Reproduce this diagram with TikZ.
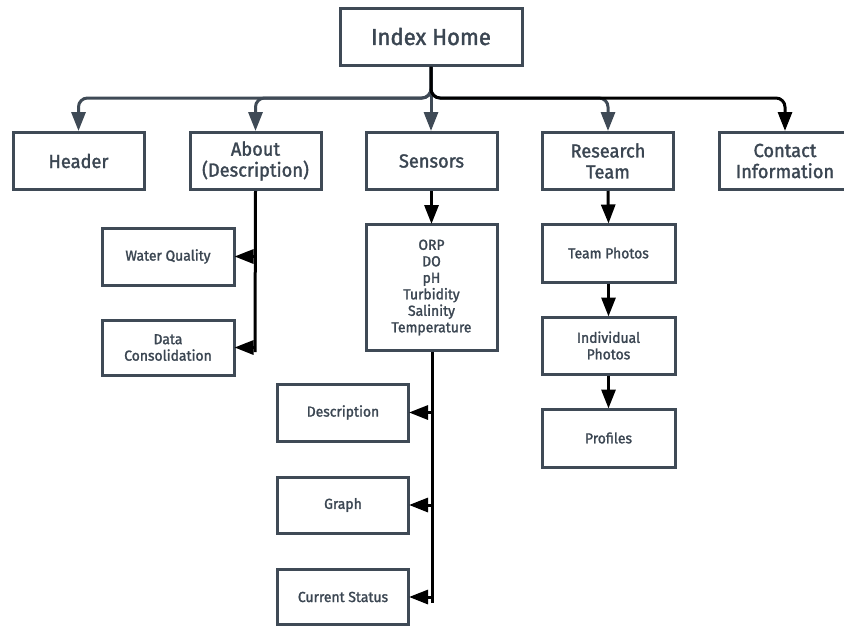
\documentclass[tikz,border=0pt]{standalone}
\usepackage{fontspec}
\setmainfont{Fira Sans}[FakeBold=1.6, FakeStretch=0.96]
\usetikzlibrary{arrows.meta}
\definecolor{slate}{HTML}{3F4A56}
\definecolor{txt}{HTML}{3B4652}
\tikzset{
  box/.style={draw=slate, line width=3pt, fill=white, text=txt, align=center,
    minimum width=131pt, minimum height=57pt, inner sep=2pt},
  bigfont/.style={font=\fontsize{19}{21}\selectfont},
  smallfont/.style={font=\fontsize{14.5}{16.5}\selectfont},
  tip/.style={-{Triangle[length=19pt,width=14pt]}},
  topconn/.style={draw=slate, line width=3pt, rounded corners=9pt, tip},
  subconn/.style={draw=black, line width=3pt},
  subarr/.style={draw=black, line width=3pt, tip, shorten >=-1pt},
}
\begin{document}
\begin{tikzpicture}[x=1pt,y=-1pt]
\useasboundingbox (0,0) rectangle (844,625);
\fill[white] (0,0) rectangle (844,625);
% nodes
\node[box, minimum width=182pt, minimum height=57pt, font=\fontsize{23}{25}\selectfont] (home) at (431,36.5) {Index Home};
\node[box, bigfont] (header) at (78.5,161) {Header};
\node[box, bigfont] (about) at (255.5,161) {About\\(Description)};
\node[box, bigfont] (sensors) at (431.5,161) {Sensors};
\node[box, bigfont] (research) at (608,161) {Research\\Team};
\node[box, bigfont] (contact) at (785,161) {Contact\\Information};
\node[box, smallfont, minimum height=126pt] (list) at (431.5,287.5) {ORP\\DO\\pH\\Turbidity\\Salinity\\Temperature};
\node[box, smallfont, minimum width=132pt] (wq) at (168,256.5) {Water Quality};
\node[box, smallfont, minimum width=132pt, minimum height=55pt] (dc) at (168,347.5) {Data\\Consolidation};
\node[box, smallfont] (desc) at (343,412.5) {Description};
\node[box, smallfont, minimum height=56pt] (graph) at (343,505) {Graph};
\node[box, smallfont, minimum height=55pt] (status) at (343,597) {Current Status};
\node[box, smallfont, minimum width=133pt, minimum height=58pt] (tp) at (608.5,253) {Team Photos};
\node[box, smallfont, minimum width=133pt] (ip) at (608.5,345.5) {Individual\\Photos};
\node[box, smallfont, minimum width=133pt, minimum height=58pt] (prof) at (608.5,438) {Profiles};
% top connectors
\coordinate (hub) at (431,98);
\draw[topconn] (home.south) -- (hub) -- (hub -| header.north) -- (header.north);
\draw[topconn] (home.south) -- (hub) -- (hub -| about.north) -- (about.north);
\draw[topconn] (home.south) -- (sensors.north -| home.south);
\draw[topconn] (home.south) -- (hub) -- (hub -| research.north) -- (research.north);
\draw[topconn, draw=black] (home.south) -- (hub) -- (hub -| contact.north) -- (contact.north);
% about branch
\coordinate (aend) at (255,352);
\draw[subconn] (about.south) -- (aend);
\draw[subarr] (aend |- wq.east) -- (wq.east);
\draw[subarr] (aend |- dc.east) -- (dc.east);
% sensors branch
\draw[subarr] (sensors.south) -- (list.north);
\coordinate (send) at (432,603);
\draw[subconn] (list.south -| send) -- (send);
\draw[subarr] (send |- desc.east) -- (desc.east);
\draw[subarr] (send |- graph.east) -- (graph.east);
\draw[subarr] (send |- status.east) -- (status.east);
% research branch
\draw[subarr] (research.south) -- (tp.north);
\draw[subarr] (tp.south) -- (ip.north);
\draw[subarr] (ip.south) -- (prof.north);
\end{tikzpicture}
\end{document}
